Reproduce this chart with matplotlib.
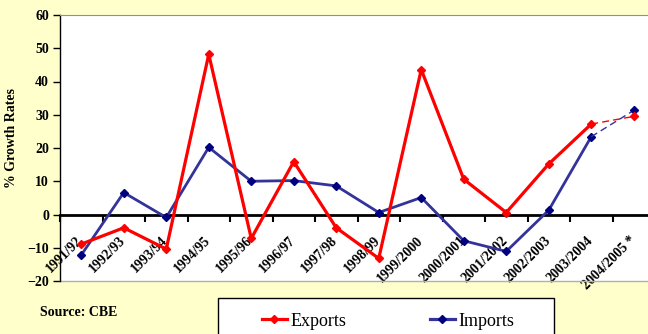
import matplotlib
matplotlib.use("Agg")
from matplotlib import pyplot as plt
from matplotlib.patches import Rectangle
from matplotlib.lines import Line2D
from matplotlib.transforms import ScaledTranslation

# growth rates (%)
years = ["1991/92", "1992/93", "1993/94", "1994/95", "1995/96", "1996/97",
         "1997/98", "1998/99", "1999/2000", "2000/2001", "2001/2002",
         "2002/2003", "2003/2004", "2004/2005 *"]
exports = [-8.9, -4.0, -10.4, 48.2, -7.2, 15.9, -4.0, -13.2, 43.6, 10.6,
           0.6, 15.2, 27.2, 29.5]
imports = [-12.2, 6.6, -0.9, 20.2, 10.0, 10.2, 8.6, 0.6, 5.1, -7.9,
           -11.1, 1.3, 23.4, 31.3]

plt.rcParams["font.family"] = ["Liberation Serif", "DejaVu Serif"]

bg = "#FFFFCC"
red = "#FF0000"
blue = "#333399"
navy = "#000080"

fig = plt.figure(figsize=(6.48, 3.34), dpi=100, facecolor=bg)
ax = fig.add_axes([60 / 648, 53 / 334, 595 / 648, 266 / 334])
ax.set_facecolor("white")

x = list(range(len(years)))
last = len(years) - 1

# solid part of each series, then dashed estimate for the last year
ax.plot(x[:last], exports[:last], color=red, lw=2.3, marker="D",
        ms=4.5, mfc=red, mec=red, zorder=4)
ax.plot(x[last - 1:], exports[last - 1:], color=red, lw=1, ls=(0, (5, 3)),
        marker="D", ms=4.5, mfc=red, mec=red, markevery=[1], zorder=4)
ax.plot(x[:last], imports[:last], color=blue, lw=2.0, marker="D",
        ms=4.5, mfc=navy, mec=navy, zorder=3)
ax.plot(x[last - 1:], imports[last - 1:], color=blue, lw=1, ls=(0, (5, 3)),
        marker="D", ms=4.5, mfc=navy, mec=navy, markevery=[1], zorder=3)

ax.set_xlim(-0.5, len(years) - 0.5)
ax.set_ylim(-20, 60)
ax.set_yticks(range(-20, 61, 10))

# x axis sits on the zero line
ax.spines["bottom"].set_position(("data", 0))
ax.spines["bottom"].set_linewidth(2)
ax.spines["bottom"].set_color("black")
ax.spines["left"].set_color("black")
ax.spines["left"].set_linewidth(1)
ax.spines["top"].set_color("#909090")
ax.spines["right"].set_visible(False)
ax.axhline(-20, color="#b0b0b0", lw=1, clip_on=False)

ax.set_xticks([i - 0.5 for i in range(len(years) + 1)])
ax.set_xticklabels([])
ax.set_xticks(x, minor=True)
ax.set_xticklabels(years, minor=True, rotation=45, ha="right", va="top",
                   rotation_mode="anchor", fontweight="bold", fontsize=10)
ax.tick_params(axis="x", which="major", direction="out", length=5, width=1.5)
ax.tick_params(axis="x", which="minor", length=0, pad=14)
shift = ScaledTranslation(-5 / 100, 0, fig.dpi_scale_trans)
for lab in ax.get_xticklabels(minor=True):
    lab.set_transform(lab.get_transform() + shift)
ax.tick_params(axis="y", direction="out", length=5, width=1, pad=3)
for lab in ax.get_yticklabels():
    lab.set_fontweight("bold")
    lab.set_fontsize(10)

fig.text(12 / 648, 1 - 138 / 334, "% Growth Rates", rotation=90,
         ha="center", va="center", fontweight="bold", fontsize=10)
fig.text(40 / 648, 1 - 313 / 334, "Source: CBE", ha="left", va="center",
         fontweight="bold", fontsize=10)

# legend box, cut by the bottom edge like the original
fig.patches.append(Rectangle((218 / 648, -0.05), 336 / 648,
                             (334 - 298) / 334 + 0.05,
                             transform=fig.transFigure, fc="white",
                             ec="black", lw=1))
handles = [Line2D([], [], color=red, lw=2.3, marker="D", ms=4, mfc=red, mec=red),
           Line2D([], [], color=blue, lw=2.3, marker="D", ms=4, mfc=navy, mec=navy)]
fig.legend(handles, ["Exports", "Imports"], loc="center",
           bbox_to_anchor=(388 / 648, 1 - 321 / 334), ncol=2, frameon=False,
           fontsize=13, handlelength=1.4, handletextpad=0.2,
           columnspacing=4.6)

fig.savefig("out.png", dpi=100, facecolor=bg)
